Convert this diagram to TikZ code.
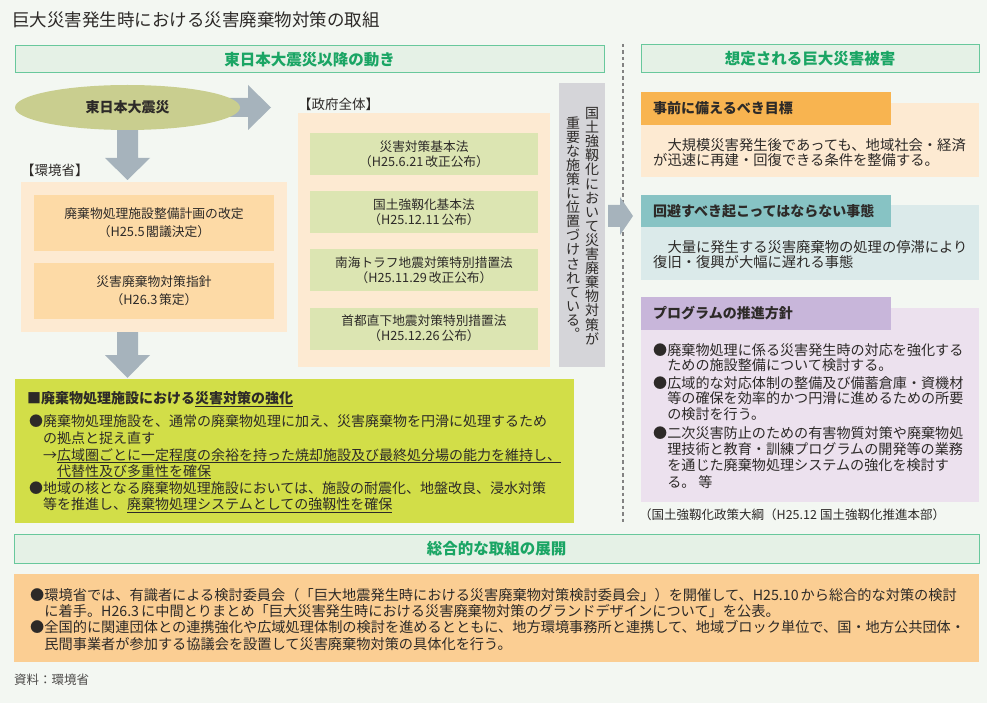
\documentclass[tikz,border=0pt]{standalone}
\usepackage{fontspec}
\setmainfont{Noto Sans CJK JP}
\usetikzlibrary{shapes.geometric}
\setlength{\lineskiplimit}{-100pt}
\definecolor{bgc}{RGB}{243,247,242}
\definecolor{hdrfill}{RGB}{229,241,230}
\definecolor{hdrline}{RGB}{104,200,156}
\definecolor{hdrink}{RGB}{26,165,100}
\definecolor{ink}{RGB}{45,42,40}
\definecolor{ellc}{RGB}{201,206,143}
\definecolor{arrowc}{RGB}{166,179,188}
\definecolor{peachlt}{RGB}{253,234,210}
\definecolor{peach}{RGB}{253,218,166}
\definecolor{govgreen}{RGB}{220,229,178}
\definecolor{greyv}{RGB}{213,213,217}
\definecolor{lime}{RGB}{210,222,72}
\definecolor{orangetab}{RGB}{248,180,80}
\definecolor{tealtab}{RGB}{135,195,196}
\definecolor{tealbody}{RGB}{219,234,234}
\definecolor{purptab}{RGB}{200,182,218}
\definecolor{purpbody}{RGB}{236,225,238}
\definecolor{orangebody}{RGB}{251,206,147}
\definecolor{dashc}{RGB}{130,130,130}
\newcommand{\fsz}[2]{\fontsize{#1}{#2}\selectfont}
\newsavebox{\ulbox}
\newcommand{\ulc}[1]{\sbox{\ulbox}{#1}\rlap{\rule[-2.4pt]{\wd\ulbox}{0.7pt}}\usebox{\ulbox}}
\tikzset{
  area/.style={anchor=north west, inner sep=0pt, outer sep=0pt},
  hdrbox/.style={area, fill=hdrfill, draw=hdrline, line width=1pt},
  hdrlabel/.style={text=hdrink, inner sep=0pt, font=\bfseries\fsz{15.5}{18}},
  blockarrow/.style={fill=arrowc},
  lawbox/.style={area, fill=govgreen, minimum width=228pt, minimum height=42pt},
  lawtext/.style={align=center, inner sep=0pt, text=ink, font=\fsz{12.7}{15}},
  kbox/.style={area, fill=peach, minimum width=240pt, minimum height=56pt},
  ktext/.style={align=center, inner sep=0pt, text=ink, font=\fsz{12.8}{18}},
  tabbox/.style={area, minimum width=250pt},
  tablabel/.style={anchor=west, inner sep=0pt, text=ink, font=\bfseries\fsz{14}{16}},
  bodytext/.style={anchor=north west, inner sep=0pt, align=left, text=ink, font=\fsz{14.3}{15.5}},
  vtext/.style={align=center, inner sep=0pt, text=ink, font=\fsz{14}{14.1}},
  bracketlabel/.style={anchor=west, inner sep=0pt, text=ink, font=\fsz{13.5}{16}},
}
\begin{document}
\begin{tikzpicture}[x=1pt,y=-1pt]
\useasboundingbox (0,0) rectangle (987,703);
\fill[bgc] (0,0) rectangle (987,703);

\node[anchor=west, inner sep=0pt, text=ink, font=\fsz{17.5}{20}] (title) at (12,20) {巨大災害発生時における災害廃棄物対策の取組};

% headers
\node[hdrbox, minimum width=589pt, minimum height=27pt] (h1) at (15,46) {};
\node[hdrlabel] (h1t) at (h1.center) {東日本大震災以降の動き};
\node[hdrbox, minimum width=338pt, minimum height=28pt] (h2) at (641,45) {};
\node[hdrlabel] (h2t) at (h2.center) {想定される巨大災害被害};
\node[hdrbox, minimum width=965pt, minimum height=29pt] (h3) at (14,534) {};
\node[hdrlabel] (h3t) at (h3.center) {総合的な取組の展開};

% dashed divider
\coordinate (dtop) at (623,44);
\coordinate (dbot) at (623,523);
\draw[dashc, line width=1.1pt, dash pattern=on 3.5pt off 3pt] (dtop) -- (dbot);

% block arrows
\fill[blockarrow] (200,98) -- (248,98) -- (248,85) -- (271,107.5) -- (248,130) -- (248,117) -- (200,117) -- cycle;
\fill[blockarrow] (117,120) -- (138,120) -- (138,158) -- (150,158) -- (127.5,180) -- (105,158) -- (117,158) -- cycle;
\fill[blockarrow] (117,330) -- (138,330) -- (138,355) -- (150,355) -- (127.5,378) -- (105,355) -- (117,355) -- cycle;
\fill[blockarrow] (608,205) -- (620,205) -- (620,197) -- (633,216) -- (620,235) -- (620,227) -- (608,227) -- cycle;

% ellipse
\node[ellipse, fill=ellc, minimum width=225pt, minimum height=45pt, inner sep=0pt, text=ink, font=\bfseries\fsz{14}{16}] (quake) at (127.5,107.5) {東日本大震災};

% Ministry of Environment
\node[bracketlabel] (moelbl) at (21,170) {【環境省】};
\node[area, fill=peachlt, minimum width=266pt, minimum height=150pt] (moe) at (21,182) {};
\node[kbox] (k1) at (34,195) {};
\node[ktext] (k1t) at (k1.center) {廃棄物処理施設整備計画の改定\\（H25.5\kern1.5pt 閣議決定）};
\node[kbox] (k2) at (34,263) {};
\node[ktext] (k2t) at (k2.center) {災害廃棄物対策指針\\（H26.3\kern1.5pt 策定）};

% Government
\node[bracketlabel] (govlbl) at (298,104) {【政府全体】};
\node[area, fill=peachlt, minimum width=252pt, minimum height=254pt] (gov) at (298,113) {};
\node[lawbox] (g1) at (310,133) {};
\node[lawtext] (g1t) at (g1.center) {災害対策基本法\\（H25.6.21\kern2pt 改正公布）};
\node[lawbox] (g2) at (310,191.5) {};
\node[lawtext] (g2t) at (g2.center) {国土強靱化基本法\\（H25.12.11\kern2pt 公布）};
\node[lawbox] (g3) at (310,249) {};
\node[lawtext] (g3t) at (g3.center) {南海トラフ地震対策特別措置法\\（H25.11.29\kern2pt 改正公布）};
\node[lawbox] (g4) at (310,307.5) {};
\node[lawtext] (g4t) at (g4.center) {首都直下地震対策特別措置法\\（H25.12.26\kern2pt 公布）};

% vertical grey box
\node[area, fill=greyv, minimum width=46pt, minimum height=284pt] (vbox) at (559,83) {};
\node[vtext] (vr) at (592,226) {国\\土\\強\\靱\\化\\に\\お\\い\\て\\災\\害\\廃\\棄\\物\\対\\策\\が};
\node[vtext] (vl) at (573,228) {重\\要\\な\\施\\策\\に\\位\\置\\づ\\け\\さ\\れ\\て\\い\\る\\︒};

% green box
\node[area, fill=lime, minimum width=559pt, minimum height=144pt] (green) at (15,379) {};
\node[anchor=west, inner sep=0pt, text=ink, font=\bfseries\fsz{14}{16}] (greent) at (27,399) {■廃棄物処理施設における\ulc{災害対策の強化}};
\node[anchor=north west, inner sep=0pt, align=left, text=ink, font=\fsz{14}{16.6}] (greenb) at (29,415) {●廃棄物処理施設を、通常の廃棄物処理に加え、災害廃棄物を円滑に処理するため\\
\hspace*{1em}の拠点と捉え直す\\
\hspace*{1em}→\ulc{広域圏ごとに一定程度の余裕を持った焼却施設及び最終処分場の能力を維持し、}\\
\hspace*{2em}\ulc{代替性及び多重性を確保}\\
●地域の核となる廃棄物処理施設においては、施設の耐震化、地盤改良、浸水対策\\
\hspace*{1em}等を推進し、\ulc{廃棄物処理システムとしての強靱性を確保}};

% right column box 1
\node[area, fill=peachlt, minimum width=338pt, minimum height=74pt] (r1) at (641,103) {};
\node[tabbox, fill=orangetab, minimum height=33pt] (r1tab) at (641,92) {};
\node[tablabel] (r1lbl) at (653,108.5) {事前に備えるべき目標};
\node[bodytext] (r1t) at (653,138) {\hspace*{1em}大規模災害発生後であっても、地域社会・経済\\が迅速に再建・回復できる条件を整備する。};

% right column box 2
\node[area, fill=tealbody, minimum width=338pt, minimum height=75pt] (r2) at (641,205) {};
\node[tabbox, fill=tealtab, minimum height=32pt] (r2tab) at (641,195) {};
\node[tablabel] (r2lbl) at (653,211) {回避すべき起こってはならない事態};
\node[bodytext] (r2t) at (653,240) {\hspace*{1em}大量に発生する災害廃棄物の処理の停滞により\\復旧・復興が大幅に遅れる事態};

% right column box 3
\node[area, fill=purpbody, minimum width=338pt, minimum height=194pt] (r3) at (641,308) {};
\node[tabbox, fill=purptab, minimum height=33pt] (r3tab) at (641,297) {};
\node[tablabel] (r3lbl) at (653,313.5) {プログラムの推進方針};
\node[bodytext, font=\fsz{14.1}{15.7}] (r3b1) at (653,343) {●廃棄物処理に係る災害発生時の対応を強化する\\\hspace*{1em}ための施設整備について検討する。};
\node[bodytext, font=\fsz{14.1}{15.7}] (r3b2) at (653,376) {●広域的な対応体制の整備及び備蓄倉庫・資機材\\\hspace*{1em}等の確保を効率的かつ円滑に進めるための所要\\\hspace*{1em}の検討を行う。};
\node[bodytext, font=\fsz{14.1}{16.3}] (r3b3) at (653,426) {●二次災害防止のための有害物質対策や廃棄物処\\\hspace*{1em}理技術と教育・訓練プログラムの開発等の業務\\\hspace*{1em}を通じた廃棄物処理システムの強化を検討す\\\hspace*{1em}る。\kern3pt 等};
\node[anchor=west, inner sep=0pt, text=ink, font=\fsz{12.5}{14}] (r3src) at (639,515) {（国土強靱化政策大綱（H25.12\kern3pt 国土強靱化推進本部）};

% bottom box
\node[area, fill=orangebody, minimum width=965pt, minimum height=88pt] (bottom) at (14,574) {};
\node[bodytext, font=\fsz{14.2}{16}] (bb1) at (30,588) {●環境省では、有識者による検討委員会（「巨大地震発生時における災害廃棄物対策検討委員会」）を開催して、H25.10\kern2pt から総合的な対策の検討\\\hspace*{1em}に着手。H26.3\kern2pt に中間とりまとめ「巨大災害発生時における災害廃棄物対策のグランドデザインについて」を公表。};
\node[bodytext, font=\fsz{14.2}{17}] (bb2) at (30,620) {●全国的に関連団体との連携強化や広域処理体制の検討を進めるとともに、地方環境事務所と連携して、地域ブロック単位で、国・地方公共団体・\\\hspace*{1em}民間事業者が参加する協議会を設置して災害廃棄物対策の具体化を行う。};

% source
\node[anchor=west, inner sep=0pt, text=ink!85, font=\fsz{12.5}{14}] (src) at (14,680) {資料：環境省};
\end{tikzpicture}
\end{document}
